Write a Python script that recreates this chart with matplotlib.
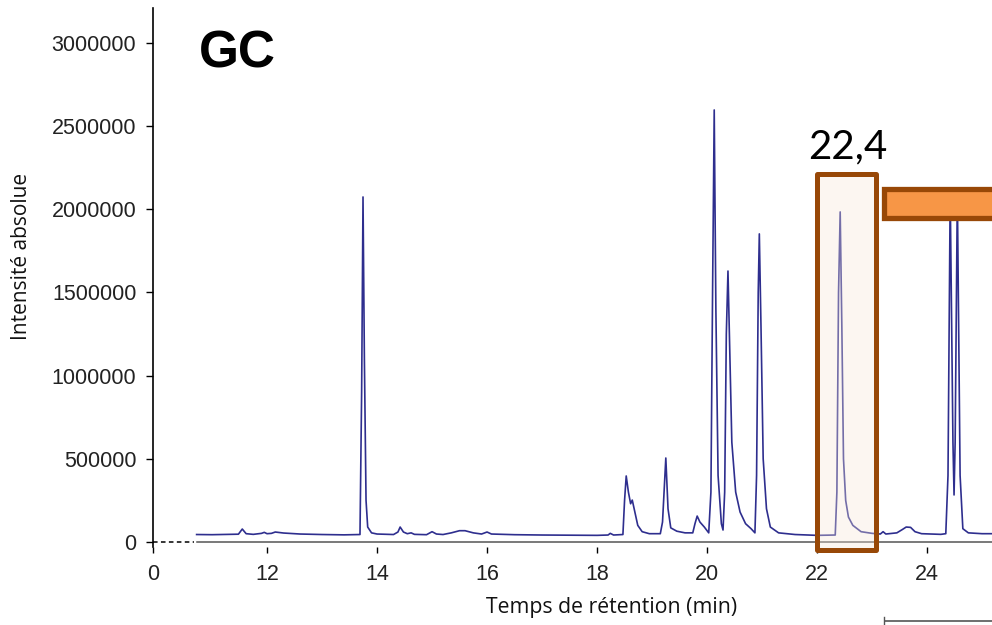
import matplotlib
matplotlib.use('Agg')
import matplotlib.pyplot as plt
from matplotlib.patches import Rectangle
from matplotlib.lines import Line2D

# chromatogram trace (time in min, intensity in counts)
temps = [10.72, 11.0, 11.3, 11.48, 11.55, 11.62, 11.75, 11.9, 11.95, 12.0, 12.08, 12.15, 12.3, 12.6,
         13.0, 13.4, 13.69, 13.72, 13.745, 13.77, 13.80, 13.83, 13.9, 14.0, 14.3, 14.38, 14.42, 14.48,
         14.55, 14.62, 14.68, 14.9, 15.0, 15.08, 15.2, 15.35, 15.5, 15.6, 15.75, 15.9, 16.0, 16.08,
         16.5, 17.0, 17.5, 18.0, 18.2, 18.24, 18.3, 18.47, 18.50, 18.53, 18.57, 18.61, 18.64, 18.68,
         18.74, 18.82, 18.95, 19.15, 19.19, 19.25, 19.29, 19.34, 19.45, 19.6, 19.74, 19.78, 19.82,
         19.87, 19.95, 20.03, 20.07, 20.1, 20.13, 20.16, 20.2, 20.26, 20.29, 20.32, 20.35, 20.38,
         20.41, 20.45, 20.52, 20.6, 20.7, 20.8, 20.87, 20.9, 20.93, 20.95, 20.98, 21.02, 21.08, 21.15,
         21.3, 21.6, 22.0, 22.33, 22.36, 22.39, 22.42, 22.45, 22.48, 22.52, 22.57, 22.65, 22.8, 23.0,
         23.15, 23.2, 23.25, 23.45, 23.55, 23.62, 23.7, 23.78, 23.9, 24.25, 24.34, 24.38, 24.42,
         24.47, 24.49, 24.51, 24.55, 24.6, 24.65, 24.75, 25.0, 25.3]
intensite = [45000, 44000, 46000, 47000, 78000, 50000, 46000, 52000, 58000, 50000, 52000, 60000, 54000, 48000,
             45000, 43000, 45000, 900000, 2074000, 1100000, 250000, 90000, 55000, 48000, 45000, 60000, 90000, 60000,
             50000, 55000, 46000, 44000, 62000, 48000, 45000, 55000, 68000, 68000, 55000, 48000, 60000, 48000,
             44000, 42000, 41000, 40000, 42000, 52000, 42000, 45000, 250000, 397000, 300000, 230000, 252000, 190000,
             100000, 62000, 50000, 50000, 120000, 505000, 200000, 85000, 65000, 55000, 55000, 110000, 156000,
             120000, 90000, 55000, 300000, 1500000, 2597000, 1400000, 400000, 110000, 72000, 300000, 1250000, 1629000,
             1200000, 600000, 300000, 180000, 110000, 80000, 55000, 400000, 1500000, 1852000, 1300000, 500000, 200000, 90000,
             55000, 45000, 40000, 42000, 300000, 1500000, 1984000, 1300000, 500000, 250000, 150000, 100000, 62000, 52000,
             48000, 62000, 48000, 55000, 75000, 90000, 88000, 62000, 50000, 46000, 50000, 400000, 2100000,
             600000, 283000, 600000, 2100000, 400000, 80000, 55000, 50000, 50000]

x_ticks = [12, 14, 16, 18, 20, 22, 24]
y_ticks = [0, 500000, 1000000, 1500000, 2000000, 2500000, 3000000]
pic_rt = 22.4

# axis break: the "0" sits at this position, time axis resumes near 10.7 min
x_zero = 9.927
x_right = 25.18

fig = plt.figure(figsize=(9.92, 6.25), dpi=100)
ax = fig.add_axes([153 / 992, 1 - 547 / 625, 1 - 153 / 992, (547 - 8) / 625])
ax.set_xlim(x_zero, x_right)
ax.set_ylim(-30000, 3210000)

ax.plot(temps, intensite, color='#2E2E8E', lw=1.2, zorder=3)

# baseline: dashed through the break, solid after it
ax.plot([x_zero, 10.68], [0, 0], color='black', lw=1.1, ls=(0, (3, 2.2)), clip_on=False, zorder=2)
ax.plot([10.72, x_right], [0, 0], color='#555555', lw=1.1, clip_on=False, zorder=2)

for s in ['top', 'right', 'bottom']:
    ax.spines[s].set_visible(False)
ax.spines['left'].set_linewidth(1.2)

ax.set_xticks([x_zero] + x_ticks)
ax.set_xticklabels(['0'] + [str(t) for t in x_ticks])
ax.set_yticks(y_ticks)
ax.set_yticklabels([str(v) for v in y_ticks])
ax.tick_params(axis='x', length=4.5, width=1, pad=8, labelsize=15.5, labelcolor='#222222')
ax.tick_params(axis='y', length=5, width=1, pad=7, labelsize=15.5, labelcolor='#222222')
for lab in ax.get_xticklabels() + ax.get_yticklabels():
    lab.set_family('Liberation Sans')

fig.text(22 / 992, 1 - 256 / 625, 'Intensité absolue', rotation=90, ha='center', va='center',
         fontsize=15, family='Open Sans', color='#111111')
fig.text(612 / 992, 1 - 607 / 625, 'Temps de rétention (min)', ha='center', va='center',
         fontsize=15.3, family='Open Sans', color='#111111')
fig.text(199 / 992, 1 - 68 / 625, 'GC', ha='left', va='baseline', fontsize=37,
         fontweight='bold', family='Liberation Sans')
fig.text(848 / 992, 1 - 158 / 625, str(pic_rt).replace('.', ','), ha='center', va='baseline',
         fontsize=29, family='Lato')

# box around the 22,4 min peak
box = Rectangle((21.99, -50000), 23.08 - 21.99, 2215000 + 50000,
                edgecolor='#984807', lw=3.6, joinstyle='round', clip_on=False, zorder=4)
box.set_facecolor((0.97, 0.90, 0.85, 0.35))
ax.add_patch(box)

# orange bar to the right
bar = Rectangle((23.218, 1948000), 3.0, 2122000 - 1948000, facecolor='#F79646',
                edgecolor='#984807', lw=3.8, clip_on=False, zorder=5)
ax.add_patch(bar)

# edge of a frame peeking at the bottom right
fig.add_artist(Line2D([885 / 992, 1.0], [1 - 621 / 625, 1 - 621 / 625], color='#555555', lw=1.2))
fig.add_artist(Line2D([884 / 992, 884 / 992], [1 - 617 / 625, 0], color='#555555', lw=1.0))

fig.savefig('out.png', dpi=100)
